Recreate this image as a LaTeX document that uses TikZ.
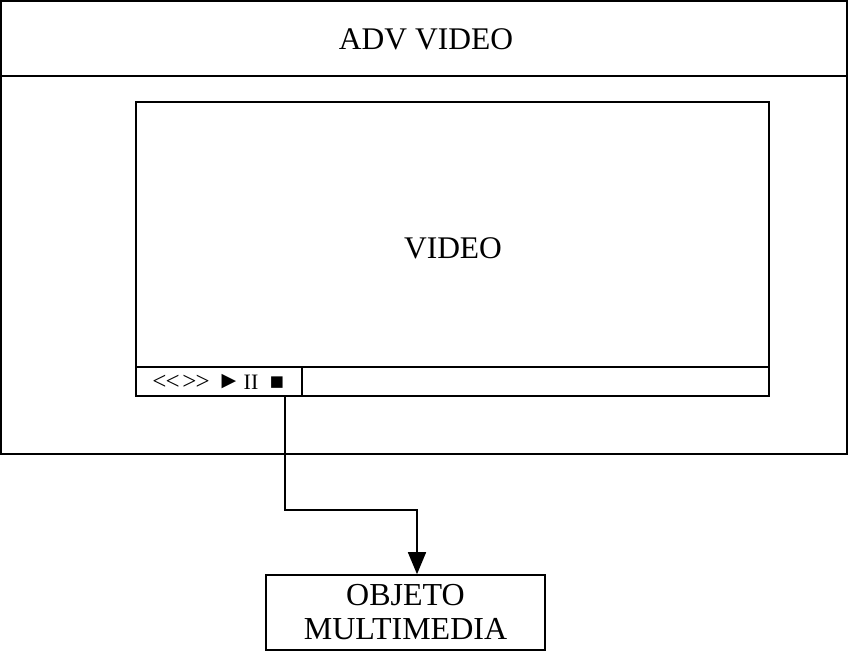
\documentclass[tikz,border=0pt]{standalone}
\usepackage{fontspec}
\setmainfont{Liberation Serif}
\newfontfamily\symfont{DejaVu Sans}
\usetikzlibrary{arrows.meta}
\begin{document}
\begin{tikzpicture}[x=1pt,y=-1pt,line width=1.6pt,
  box/.style={draw,rectangle,inner sep=0pt},
  lbl/.style={font=\fontsize{31.5}{34}\selectfont},
  ctl/.style={font=\fontsize{22}{22}\selectfont,inner sep=0pt},
  chev/.style={font=\fontsize{25}{26}\selectfont,inner sep=0pt},
  sym/.style={font=\symfont\fontsize{19}{20}\selectfont,inner sep=0pt}]
\useasboundingbox (0,0) rectangle (848,653);
% outer window
\node[box,minimum width=846pt,minimum height=453pt] (outer) at (424,227.5) {};
\coordinate (tline) at (0,76);
\draw (outer.west |- tline) -- (outer.east |- tline);
\node[lbl] (title) at (426,39) {ADV VIDEO};
% video frame
\node[box,minimum width=633pt,minimum height=294pt] (video) at (452.5,249) {};
\node[lbl] (vlabel) at (453,248) {VIDEO};
\coordinate (bar) at (0,367);
\draw (video.west |- bar) -- (video.east |- bar);
\coordinate (div) at (302,367);
\draw (div) -- (div |- video.south);
% controls
\node[chev] (rew) at (166,382) {{<}\kern-1pt{<}};
\node[chev] (ffw) at (196,382) {{>}\kern-1pt{>}};
\node[sym] (play) at (229,382) {▶};
\node[ctl] (pause) at (251,382) {II};
\node[sym,font=\symfont\fontsize{15}{18}\selectfont] (stop) at (277,383) {■};
% multimedia object
\node[box,font=\fontsize{32}{34}\selectfont,align=center,minimum width=279pt,minimum height=75pt] (obj) at (405.5,612.5) {OBJETO\\MULTIMEDIA};
% connector
\coordinate (start) at (285,396);
\coordinate (b1) at (285,510);
\coordinate (b2) at (417,510);
\draw[-{Triangle[width=18pt,length=22pt]}] (start) -- (b1) -- (b2) -- (b2 |- obj.north);
\end{tikzpicture}
\end{document}
